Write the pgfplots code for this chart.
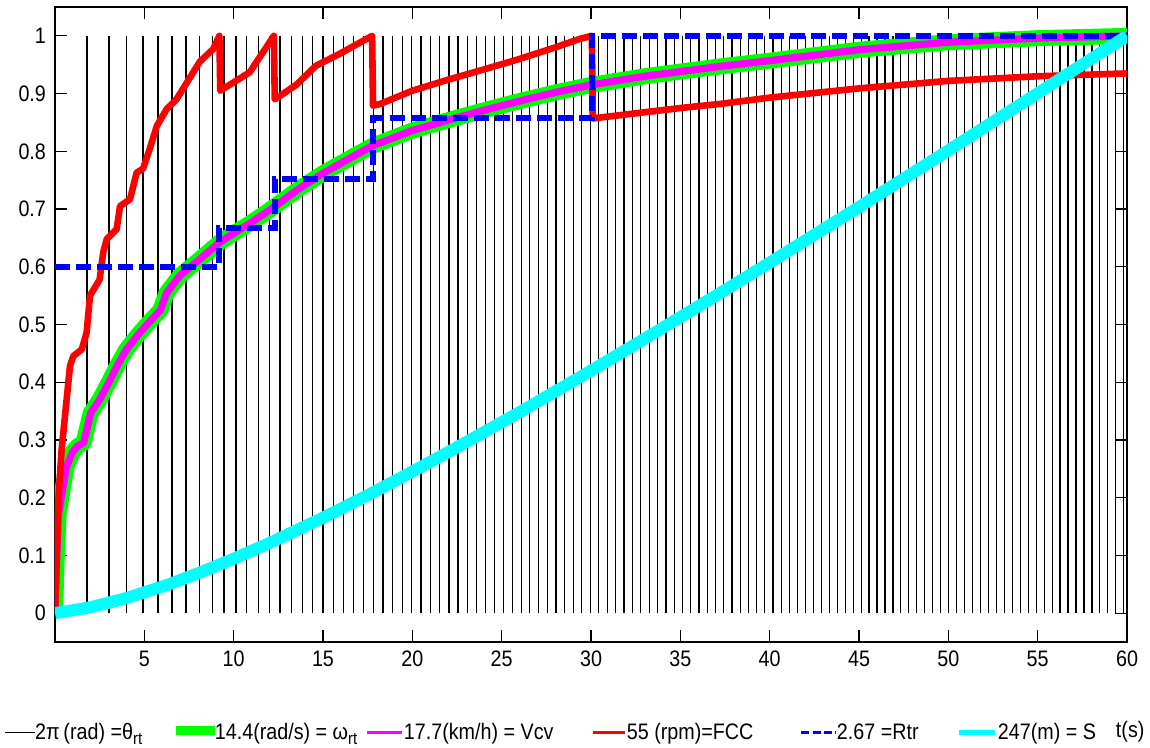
\documentclass[border=0pt]{standalone}
\usepackage{fontspec}
\setmainfont{Liberation Sans}[FakeStretch=0.88]
\usepackage{pgfplots}
\pgfplotsset{compat=1.18}
\definecolor{cgreen}{RGB}{0,255,0}
\definecolor{cmag}{RGB}{255,0,255}
\definecolor{cred}{RGB}{255,0,0}
\definecolor{cblue}{RGB}{0,0,255}
\definecolor{ccyan}{RGB}{0,255,255}
\newcommand{\lf}{\fontsize{11.2}{13}\selectfont}
\newcommand{\sub}[1]{\raisebox{-2.6pt}{\fontsize{8.5}{9}\selectfont #1}}
\begin{document}
\begin{tikzpicture}
\useasboundingbox (0,0) rectangle (575pt,-374pt);
\begin{axis}[
 at={(27.5pt,-3.5pt)}, anchor=north west,
 scale only axis, width=536pt, height=317.5pt,
 xmin=0, xmax=60, ymin=-0.05, ymax=1.05,
 xtick={5,10,...,60},
 ytick={0,0.1,0.2,0.3,0.4,0.5,0.6,0.7,0.8,0.9,1},
 tick align=inside, major tick length=6pt,
 xtick pos=both, ytick pos=both,
 xticklabel pos=bottom, yticklabel pos=left,
 axis line style={line width=0.6pt},
 every tick/.style={black, line width=0.6pt},
 tick label style={font=\lf},
 /pgf/number format/assume math mode=true,
 yticklabel style={xshift=-1pt},
 xticklabel style={yshift=-1pt},
 xlabel={t(s)},
 xlabel style={at={(1.003,-0.150)}, anchor=base, font=\lf, inner sep=0pt},
 legend style={at={(-0.0476,-0.158)}, anchor=south west, draw=none, fill=none,
   inner sep=0pt, outer sep=0pt, font=\lf, legend columns=-1,
   /tikz/every even column/.style={column sep=1pt},
   /tikz/every odd column/.style={column sep=0pt},
   nodes={inner sep=0pt}},
 legend cell align=left,
]
\addlegendimage{legend image code/.code={\draw[black,line width=0.6pt] (0pt,0pt) -- (15pt,0pt);}}
\addlegendentry{\makebox[69.5pt][l]{2π\,(rad) =θ\sub{rt}}}
\addlegendimage{legend image code/.code={\fill[cgreen] (0pt,-1pt) rectangle (19pt,3pt);}}
\addlegendentry{\makebox[74.5pt][l]{14.4(rad/s) = ω\sub{rt}}}
\addlegendimage{legend image code/.code={\draw[cmag,line width=1.5pt] (0pt,0pt) -- (17.5pt,0pt);}}
\addlegendentry{\makebox[93pt][l]{17.7(km/h) = Vcv}}
\addlegendimage{legend image code/.code={\draw[cred,line width=1.5pt] (0pt,0pt) -- (16pt,0pt);}}
\addlegendentry{\makebox[85.5pt][l]{55 (rpm)=FCC}}
\addlegendimage{legend image code/.code={\draw[cblue,line width=1.5pt,dash pattern=on 4pt off 1.6pt] (0pt,0pt) -- (17pt,0pt);}}
\addlegendentry{\makebox[59pt][l]{2.67 =Rtr}}
\addlegendimage{legend image code/.code={\draw[ccyan,line width=2.5pt] (0pt,0pt) -- (18pt,0pt);}}
\addlegendentry{247(m) = S}

% theta_rt: one line per revolution
\addplot[black, line width=0.6pt, ycomb, forget plot] coordinates {
(1.79,1) (3.02,1) (3.99,1) (4.93,1) (5.77,1) (6.55,1) (7.33,1) (8.08,1) (8.80,1) (9.46,1)
(10.13,1) (10.73,1) (11.38,1) (11.99,1) (12.59,1) (13.24,1) (13.84,1) (14.43,1) (15.00,1) (15.58,1)
(16.14,1) (16.71,1) (17.26,1) (17.81,1) (18.36,1) (18.89,1) (19.43,1) (19.96,1) (20.49,1) (21.01,1)
(21.54,1) (22.05,1) (22.56,1) (23.07,1) (23.59,1) (24.09,1) (24.60,1) (25.10,1) (25.60,1) (26.09,1)
(26.58,1) (27.07,1) (27.56,1) (28.04,1) (28.52,1) (29.00,1) (29.48,1) (29.96,1) (30.44,1) (30.91,1)
(31.38,1) (31.85,1) (32.32,1) (32.79,1) (33.26,1) (33.73,1) (34.20,1) (34.67,1) (35.13,1) (35.59,1)
(36.05,1) (36.51,1) (36.97,1) (37.43,1) (37.89,1) (38.35,1) (38.81,1) (39.27,1) (39.73,1) (40.19,1)
(40.64,1) (41.09,1) (41.54,1) (41.99,1) (42.44,1) (42.89,1) (43.34,1) (43.79,1) (44.24,1) (44.67,1)
(45.12,1) (45.56,1) (46.01,1) (46.45,1) (46.90,1) (47.34,1) (47.79,1) (48.23,1) (48.68,1) (49.13,1)
(49.57,1) (50.02,1) (50.46,1) (50.91,1) (51.35,1) (51.80,1) (52.24,1) (52.69,1) (53.14,1) (53.58,1)
(54.03,1) (54.47,1) (54.92,1) (55.36,1) (55.81,1) (56.25,1) (56.70,1) (57.14,1) (57.59,1) (58.04,1)
(58.48,1) (58.93,1) (59.37,1) (59.82,1)
};
% omega_rt (green) and Vcv (magenta)
\addplot[cgreen, line width=8pt, line join=round, forget plot] coordinates {
(0,0) (0.1,0.1) (0.2,0.17) (0.4,0.21) (0.65,0.254) (1.0,0.28) (1.3,0.29) (1.6,0.295)
(2.0,0.347) (2.5,0.37) (3.1,0.405) (3.5,0.43) (4.0,0.457) (4.75,0.486) (5.3,0.505) (5.9,0.525)
(6.25,0.555) (7,0.585) (8.1,0.613) (9.2,0.642) (10,0.658) (10.9,0.675) (12,0.698) (12.8,0.716)
(13.7,0.736) (15,0.762) (16.5,0.788) (17.8,0.81) (20,0.836) (22,0.854) (24,0.871) (26,0.887)
(28,0.902) (30,0.915) (33,0.93) (37.2,0.947) (40,0.957) (45,0.976) (50,0.989) (55,0.996) (60,1.0)
};
\addplot[cmag, line width=3.6pt, line join=round, forget plot] coordinates {
(0,0) (0.1,0.1) (0.2,0.17) (0.4,0.21) (0.65,0.254) (1.0,0.28) (1.3,0.29) (1.6,0.295)
(2.0,0.347) (2.5,0.37) (3.1,0.405) (3.5,0.43) (4.0,0.457) (4.75,0.486) (5.3,0.505) (5.9,0.525)
(6.25,0.555) (7,0.585) (8.1,0.613) (9.2,0.642) (10,0.658) (10.9,0.675) (12,0.698) (12.8,0.716)
(13.7,0.736) (15,0.762) (16.5,0.788) (17.8,0.81) (20,0.836) (22,0.854) (24,0.871) (26,0.887)
(28,0.902) (30,0.915) (33,0.93) (37.2,0.947) (40,0.957) (45,0.976) (50,0.989) (55,0.996) (60,1.0)
};
% FCC (red)
\addplot[cred, line width=3.3pt, line join=round, forget plot] coordinates {
(0,0) (0.1,0.1) (0.19,0.196) (0.37,0.283) (0.65,0.37) (0.84,0.428) (1.02,0.445) (1.5,0.457)
(1.77,0.486) (1.96,0.55) (2.5,0.578) (2.7,0.625) (2.9,0.648) (3.45,0.665) (3.64,0.705) (4.2,0.717)
(4.57,0.763) (4.93,0.77) (5.3,0.804) (5.7,0.844) (6.25,0.873) (6.8,0.89) (7.4,0.92) (8.1,0.955)
(8.85,0.977) (9.2,1.0) (9.25,0.905) (10.9,0.937) (12.25,1.0) (12.3,0.89) (13.5,0.915) (14.6,0.948)
(16,0.97) (17.75,1.0) (17.8,0.879) (18.2,0.882) (20,0.905) (22.1,0.925) (23.8,0.94) (26,0.96)
(28,0.98) (29.4,0.995) (30.05,1.0) (30.1,0.857) (35,0.875) (37.2,0.882) (40,0.893) (45,0.909)
(50,0.922) (55,0.93) (60,0.935)
};
% Rtr (blue dashed)
\addplot[cblue, line width=3pt, dash pattern=on 7.5pt off 3pt, forget plot] coordinates {
(0,0.6) (9.2,0.6) (9.2,0.668) (12.3,0.668) (12.3,0.752) (17.8,0.752) (17.8,0.857) (30.05,0.857) (30.05,1.0) (60,1.0)
};
% S (cyan)
\addplot[ccyan, line width=6pt, forget plot] coordinates {
(0,0) (2,0.0102) (4,0.0261) (6.25,0.0485) (8.1,0.0702) (10,0.0943) (12,0.1214) (15,0.1653)
(17.8,0.2091) (20,0.2452) (22.1,0.2805) (26,0.348) (29.75,0.4155) (33,0.4753) (37.2,0.5539)
(40,0.6071) (45,0.7035) (50,0.8016) (55,0.9006) (60,1.0)
};
\end{axis}
\end{tikzpicture}
\end{document}
